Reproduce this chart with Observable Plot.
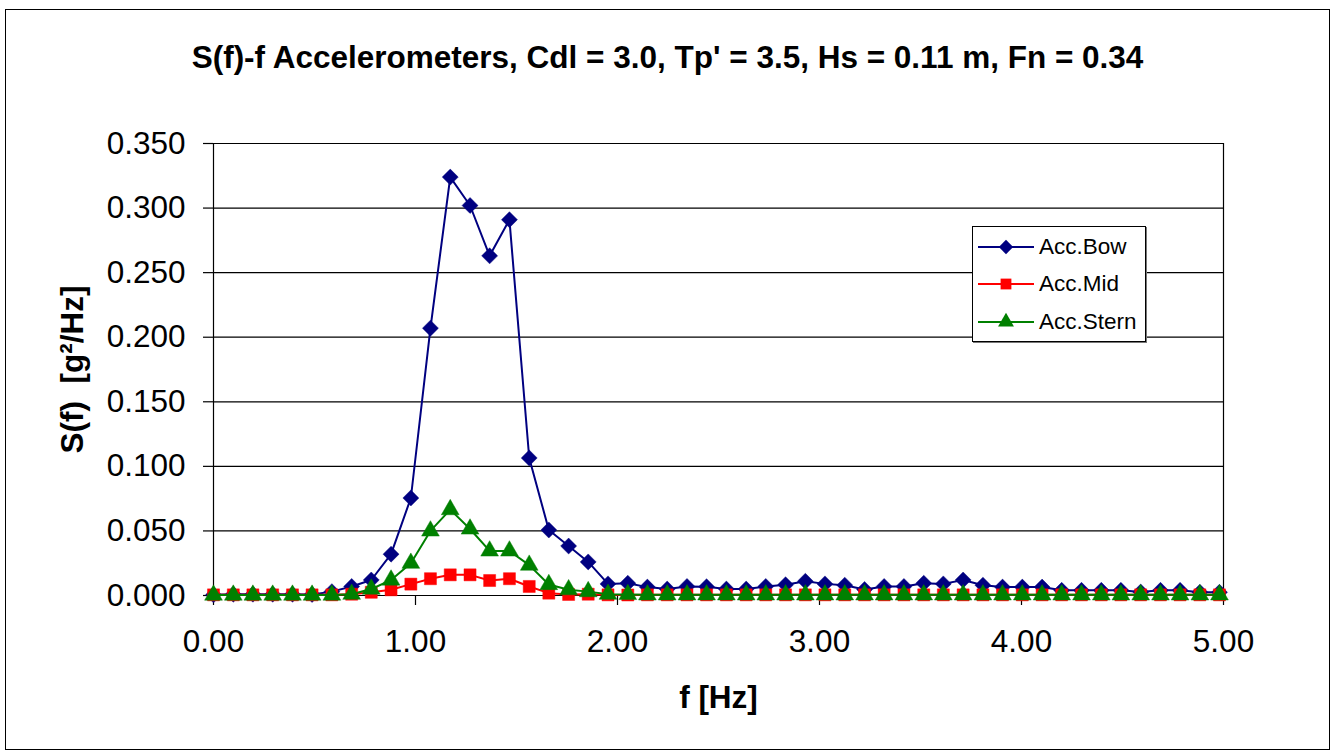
<!DOCTYPE html>
<html>
<head>
<meta charset="utf-8">
<script src="https://cdn.jsdelivr.net/npm/d3@7"></script>
<script src="https://cdn.jsdelivr.net/npm/@observablehq/plot@0.6"></script>
<style>
  html, body { margin: 0; padding: 0; background: #fff; }
  #wrap { position: relative; width: 1334px; height: 754px; overflow: hidden;
          font-family: "Liberation Sans", Arial, sans-serif; }
  #border { position: absolute; left: 5px; top: 9px; width: 1325px; height: 741px;
            border: 1px solid #000; box-sizing: border-box; pointer-events: none; }
  #legend { position: absolute; left: 972px; top: 226px; width: 174px; height: 116px;
            box-sizing: border-box; border: 1px solid #000; background: #fff;
            box-shadow: 1px 1px 0 #777; padding-top: 1px; }
  .row { display: flex; align-items: center; height: 37.5px; }
  .row svg { margin-left: 5px; margin-right: 5px; }
  .row span { font-size: 22.5px; color: #000; }
</style>
</head>
<body>
<div id="wrap">
  <div id="chart"></div>
  <div id="legend"></div>
  <div id="border"></div>
</div>
<script>
// Spectral density S(f) of the three accelerometers, frequency step ~0.0977 Hz
const freq = [0.000, 0.098, 0.195, 0.293, 0.391, 0.488, 0.586, 0.684, 0.781, 0.879,
              0.977, 1.074, 1.172, 1.270, 1.367, 1.465, 1.563, 1.660, 1.758, 1.855,
              1.953, 2.051, 2.148, 2.246, 2.344, 2.441, 2.539, 2.637, 2.734, 2.832,
              2.930, 3.027, 3.125, 3.223, 3.320, 3.418, 3.516, 3.613, 3.711, 3.809,
              3.906, 4.004, 4.102, 4.199, 4.297, 4.395, 4.492, 4.590, 4.688, 4.785,
              4.883, 4.980];

const accBow = [0.0005, 0.0010, 0.0010, 0.0010, 0.0010, 0.0008, 0.0030, 0.0070, 0.0120, 0.0320,
                0.0755, 0.2070, 0.3240, 0.3020, 0.2630, 0.2910, 0.1065, 0.0507, 0.0383, 0.0260,
                0.0090, 0.0095, 0.0065, 0.0050, 0.0070, 0.0068, 0.0050, 0.0050, 0.0070, 0.0083,
                0.0110, 0.0090, 0.0080, 0.0047, 0.0070, 0.0070, 0.0095, 0.0090, 0.0120, 0.0080,
                0.0065, 0.0065, 0.0065, 0.0040, 0.0040, 0.0040, 0.0040, 0.0027, 0.0040, 0.0040,
                0.0025, 0.0025];

const accMid = [0.0005, 0.0005, 0.0005, 0.0005, 0.0005, 0.0005, 0.0005, 0.0010, 0.0025, 0.0044,
                0.0088, 0.0130, 0.0160, 0.0160, 0.0116, 0.0130, 0.0070, 0.0018, 0.0008, 0.0010,
                0.0005, 0.0004, 0.0005, 0.0005, 0.0005, 0.0005, 0.0005, 0.0005, 0.0005, 0.0005,
                0.0005, 0.0005, 0.0005, 0.0005, 0.0005, 0.0005, 0.0005, 0.0005, 0.0005, 0.0005,
                0.0005, 0.0005, 0.0005, 0.0005, 0.0005, 0.0005, 0.0005, 0.0005, 0.0005, 0.0005,
                0.0005, 0.0005];

const accStern = [0.0003, 0.0003, 0.0003, 0.0003, 0.0003, 0.0003, 0.0003, 0.0010, 0.0050, 0.0120,
                  0.0250, 0.0500, 0.0665, 0.0515, 0.0345, 0.0345, 0.0235, 0.0085, 0.0045, 0.0030,
                  0.0010, 0.0008, 0.0005, 0.0005, 0.0005, 0.0005, 0.0005, 0.0005, 0.0005, 0.0005,
                  0.0005, 0.0005, 0.0005, 0.0005, 0.0005, 0.0005, 0.0005, 0.0005, 0.0005, 0.0005,
                  0.0005, 0.0005, 0.0005, 0.0005, 0.0005, 0.0005, 0.0005, 0.0005, 0.0005, 0.0005,
                  0.0005, 0.0005];

const xTicks = [0, 1, 2, 3, 4, 5];
const yTicks = [0, 0.05, 0.10, 0.15, 0.20, 0.25, 0.30, 0.35];

const titleText = "S(f)-f Accelerometers, Cdl = 3.0, Tp' = 3.5, Hs = 0.11 m, Fn = 0.34";
const xLabel = "f [Hz]";
const yLabel = "S(f)  [g\u00B2/Hz]";

const series = [
  {name: "Acc.Bow",   values: accBow,   color: "#000080", symbol: "diamond2", r: 7.2},
  {name: "Acc.Mid",   values: accMid,   color: "#ff0000", symbol: "square",   r: 6.8},
  {name: "Acc.Stern", values: accStern, color: "#008000", symbol: "triangle", r: 6.6}
];

const rows = series.map(s => freq.map((f, i) => ({f, v: s.values[i], name: s.name})));

const seriesMarks = series.flatMap((s, k) => [
  Plot.line(rows[k], {x: "f", y: "v", stroke: s.color, strokeWidth: 2}),
  Plot.dot(rows[k], {x: "f", y: "v", symbol: () => s.symbol, r: s.r, fill: s.color,
                     stroke: s.color, strokeWidth: 1, strokeOpacity: 0.45})
]);

const FS = 31.5;

const chart = Plot.plot({
  width: 1334,
  height: 754,
  marginLeft: 213,
  marginRight: 111,
  marginTop: 143,
  marginBottom: 159,
  style: {fontFamily: "'Liberation Sans', Arial, sans-serif", fontSize: FS + "px", color: "#000", background: "#fff", overflow: "visible"},
  x: {domain: [0, 5]},
  y: {domain: [0, 0.35]},
  symbol: {type: "identity"},
  marks: [
    Plot.gridY(yTicks, {stroke: "#000", strokeOpacity: 1, strokeWidth: 1.2}),
    Plot.ruleX([5], {stroke: "#000", strokeWidth: 1.2}),
    Plot.axisY(yTicks, {tickSize: 10, tickPadding: 18, tickFormat: d => d.toFixed(3), label: null, fontSize: FS, strokeWidth: 1.2}),
    Plot.axisX(xTicks, {tickSize: 10, tickPadding: 24, tickFormat: d => d.toFixed(2), label: null, fontSize: FS, strokeWidth: 1.2}),
    Plot.ruleX([0], {stroke: "#000", strokeWidth: 1.2}),
    Plot.ruleY([0], {stroke: "#000", strokeWidth: 1.2}),
    ...seriesMarks,
    Plot.text([titleText], {text: d => d, frameAnchor: "top", dy: -86, dx: -51, lineAnchor: "middle", textAnchor: "middle", fontWeight: "bold", fontSize: FS}),
    Plot.text([xLabel], {text: d => d, frameAnchor: "bottom", dy: 102, lineAnchor: "middle", textAnchor: "middle", fontWeight: "bold", fontSize: FS}),
    Plot.text([yLabel], {text: d => d, frameAnchor: "left", dx: -141, rotate: -90, lineAnchor: "middle", textAnchor: "middle", fontWeight: "bold", fontSize: FS})
  ]
});
document.getElementById("chart").appendChild(chart);

// Legend: line swatch with the series marker, then the name
const symbolTypes = {diamond2: d3.symbolDiamond2, square: d3.symbolSquare, triangle: d3.symbolTriangle};
const legend = d3.select("#legend");
for (const s of series) {
  const row = legend.append("div").attr("class", "row");
  const svg = row.append("svg").attr("width", 56).attr("height", 20);
  svg.append("line").attr("x1", 0).attr("x2", 56).attr("y1", 10).attr("y2", 10)
     .attr("stroke", s.color).attr("stroke-width", 2);
  svg.append("path").attr("transform", "translate(28,10)")
     .attr("d", d3.symbol(symbolTypes[s.symbol], Math.PI * s.r * s.r * 0.8)())
     .attr("fill", s.color);
  row.append("span").text(s.name);
}
</script>
</body>
</html>
